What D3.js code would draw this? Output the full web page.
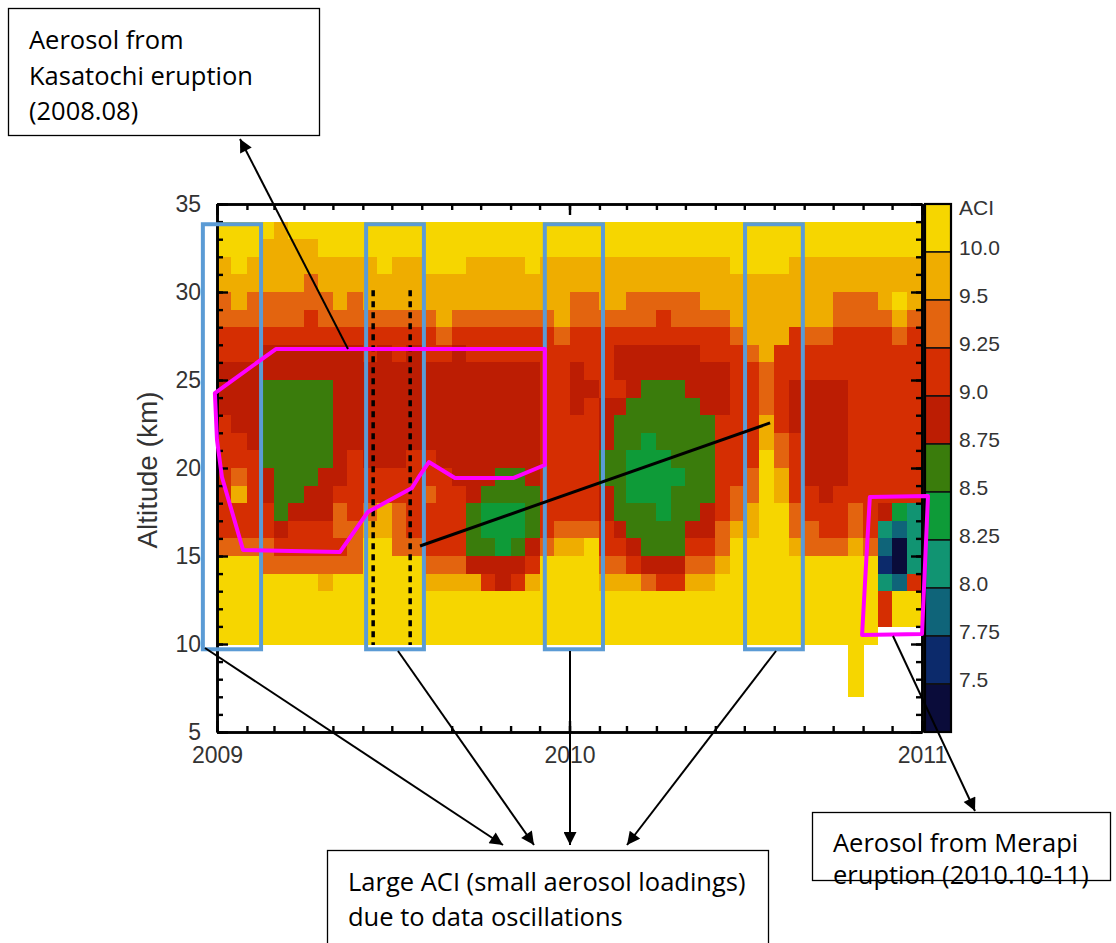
<!DOCTYPE html>
<html>
<head>
<meta charset="utf-8">
<title>ACI altitude-time section 2009-2011</title>
<script src="https://cdn.jsdelivr.net/npm/d3@7/dist/d3.min.js"></script>
<style>
  body { margin: 0; background: #fff; }
  .axis .domain { stroke: #000; stroke-width: 2.6; }
  .axis .tick line { stroke: #000; stroke-width: 2.4; }
  .axis text, .cbar text, .ylabel { font-family: "Liberation Sans", Arial, sans-serif; font-size: 23px; fill: #333; }
  .cbar text { font-size: 21px; }
  .note text { font-family: "Open Sans", sans-serif; font-size: 25.5px; fill: #000; }
</style>
</head>
<body>
<svg id="chart" width="1116" height="943"></svg>
<script>
(function () {
  'use strict';

  // ACI class of each 1 km cell, one string per half-month column,
  // read from the top cell (33-34 km) down to 7-8 km.
  // 0 >10.0 | 1 9.5-10 | 2 9.25-9.5 | 3 9.0-9.25 | 4 8.75-9.0 | 5 8.5-8.75
  // 6 8.25-8.5 | 7 8.0-8.25 | 8 7.75-8.0 | 9 7.5-7.75 | A <7.5 | . no data
  var aci2009 = [
    "001122334443333333200000...",
    "000112334444332133200000...",
    "001122334444433333200000...",
    "011122344555554433220000...",
    "111122344555555554320000...",
    "011122344555555543320000...",
    "011223344555555443320000...",
    "001122344555554443321000...",
    "001112344444444322320000...",
    "001122344444433332220000...",
    "001112334444443321000000...",
    "000112344444443311000000...",
    "001112334444443322200000...",
    "001112344444433333200000...",
    "000112334444433233321000...",
    "000111234444443333321000...",
    "000112344444444333321000...",
    "001112334444444455541000...",
    "001112334444444566543000...",
    "001112334444445566644000...",
    "001112334444445566543000...",
    "000112334444444555431000...",
    "001112333333333333200000...",
    "001111233333333332100000..."
  ];
  var aci2010 = [
    "001122334443333332100000...",
    "001122333433333332000000...",
    "001112333344455443321000...",
    "001112344345555554321000...",
    "001122344455566655431000...",
    "001122344555666655542000...",
    "001123344555566665543000...",
    "001122344555556555543000...",
    "001122344455555554321000...",
    "001112334445555544321000...",
    "001112334443333332210000...",
    "000111233333333221000000...",
    "000111123333332211000000...",
    "000111112221100000000000...",
    "000111133333221100000000...",
    "001111333444333322100000...",
    "001111233444444332200000...",
    "001111233444444433200000...",
    "001122333444444333200000...",
    "001122333333333322100000000",
    "001122333333333333200000...",
    "00111233333333334789733....",
    "001101233333333368AA800....",
    "00111233333333337777300...."
  ];

  var aciClasses = ['0', '1', '2', '3', '4', '5', '6', '7', '8', '9', 'A'];
  var aciColors = ['#f6d600', '#efad00', '#e3640f', '#d52e02', '#bc1d03', '#3a7c0c',
                   '#0e9b38', '#119472', '#0f6479', '#0c2a6b', '#0a0c3a'];
  var aciLabels = ['10.0', '9.5', '9.25', '9.0', '8.75', '8.5', '8.25', '8.0', '7.75', '7.5'];
  var altTicks = [5, 10, 15, 20, 25, 30, 35];
  var yearTicks = [2009, 2010, 2011];

  // overlay marks, in decimal year / km
  var oscillationBoxes = [[2008.96, 2009.125], [2009.423, 2009.587], [2009.93, 2010.095], [2010.498, 2010.662]];
  var kasatochiOutline = [[2008.994, 24.26], [2009.0, 21.59], [2009.014, 19.49], [2009.074, 15.34],
    [2009.349, 15.23], [2009.428, 17.5], [2009.553, 18.86], [2009.576, 19.6], [2009.601, 20.34],
    [2009.675, 19.43], [2009.84, 19.43], [2009.93, 20.17], [2009.93, 26.76], [2009.167, 26.76]];
  var merapiOutline = [[2010.852, 18.35], [2011.017, 18.41], [2011.0, 10.57], [2010.83, 10.51]];
  var dottedLines = [2009.443, 2009.548];
  var trendLine = [[2009.576, 15.57], [2010.569, 22.56]];

  var svg = d3.select('#chart');

  var x = d3.scaleTime()
    .domain([new Date(2009, 0, 1), new Date(2011, 0, 1)])
    .range([217, 922]);
  var y = d3.scaleLinear().domain([5, 35]).range([732, 204]);
  var color = d3.scaleOrdinal().domain(aciClasses).range(aciColors);

  var yearDate = function (v) {
    var y0 = Math.floor(v);
    var a = new Date(y0, 0, 1), b = new Date(y0 + 1, 0, 1);
    return new Date(a.getTime() + (v - y0) * (b - a));
  };

  // half-month column edges
  var colEdges = [];
  d3.timeMonth.range(new Date(2009, 0, 1), new Date(2011, 0, 1)).forEach(function (m) {
    colEdges.push(m, new Date(m.getFullYear(), m.getMonth(), 16));
  });
  colEdges.push(new Date(2011, 0, 1));
  var altBins = d3.range(33, 6, -1);

  var cells = [];
  aci2009.concat(aci2010).forEach(function (col, i) {
    col.split('').forEach(function (k, j) {
      if (k === '.') return;
      cells.push({ t0: colEdges[i], t1: colEdges[i + 1], alt: altBins[j], k: k });
    });
  });

  svg.append('g').attr('class', 'cells')
    .selectAll('rect')
    .data(cells)
    .enter().append('rect')
    .attr('x', function (d) { return x(d.t0); })
    .attr('y', function (d) { return y(d.alt + 1); })
    .attr('width', function (d) { return x(d.t1) - x(d.t0) + 0.6; })
    .attr('height', function (d) { return y(d.alt) - y(d.alt + 1) + 0.6; })
    .attr('fill', function (d) { return color(d.k); })
    .attr('shape-rendering', 'crispEdges');

  // axes, ticks pointing inward
  var monthTicks = d3.timeMonth.every(1);
  var yearDates = yearTicks.map(function (v) { return new Date(v, 0, 1); });

  svg.append('g').attr('class', 'axis').attr('transform', 'translate(217,0)')
    .call(d3.axisLeft(y).tickValues(d3.range(5, 36)).tickSizeInner(-6).tickSizeOuter(0).tickFormat(''));
  svg.append('g').attr('class', 'axis').attr('transform', 'translate(217,0)')
    .call(d3.axisLeft(y).tickValues(altTicks).tickSizeInner(-11).tickSizeOuter(0).tickPadding(16));

  svg.append('g').attr('class', 'axis').attr('transform', 'translate(922,0)')
    .call(d3.axisRight(y).tickValues(d3.range(5, 36)).tickSizeInner(-6).tickSizeOuter(0).tickFormat(''));
  svg.append('g').attr('class', 'axis').attr('transform', 'translate(922,0)')
    .call(d3.axisRight(y).tickValues(altTicks).tickSizeInner(-11).tickSizeOuter(0).tickFormat(''));

  svg.append('g').attr('class', 'axis').attr('transform', 'translate(0,204)')
    .call(d3.axisTop(x).ticks(monthTicks).tickSizeInner(-6).tickSizeOuter(0).tickFormat(''));
  svg.append('g').attr('class', 'axis').attr('transform', 'translate(0,204)')
    .call(d3.axisTop(x).tickValues(yearDates).tickSizeInner(-11).tickSizeOuter(0).tickFormat(''));

  svg.append('g').attr('class', 'axis').attr('transform', 'translate(0,732)')
    .call(d3.axisBottom(x).ticks(monthTicks).tickSizeInner(-6).tickSizeOuter(0).tickFormat(''));
  svg.append('g').attr('class', 'axis').attr('transform', 'translate(0,732)')
    .call(d3.axisBottom(x).tickValues(yearDates).tickSizeInner(-11).tickSizeOuter(0)
      .tickPadding(15).tickFormat(d3.timeFormat('%Y')));

  svg.append('text').attr('class', 'ylabel')
    .attr('transform', 'translate(157,470) rotate(-90)')
    .attr('text-anchor', 'middle')
    .style('font-size', '28px')
    .text('Altitude (km)');

  // colour bar
  var cb = d3.scaleBand().domain(aciClasses).range([204, 732]);
  var cbar = svg.append('g').attr('class', 'cbar');
  cbar.selectAll('rect')
    .data(aciClasses)
    .enter().append('rect')
    .attr('x', 925)
    .attr('y', function (d) { return cb(d); })
    .attr('width', 26)
    .attr('height', cb.bandwidth())
    .attr('fill', function (d) { return color(d); })
    .attr('stroke', '#111')
    .attr('stroke-width', 1.5);
  cbar.append('rect')
    .attr('x', 925).attr('y', 204).attr('width', 26).attr('height', 528)
    .attr('fill', 'none').attr('stroke', '#000').attr('stroke-width', 2.2);
  cbar.selectAll('text.lab')
    .data(aciLabels)
    .enter().append('text')
    .attr('class', 'lab')
    .attr('x', 959)
    .attr('y', function (d, i) { return cb(aciClasses[i + 1]) - 4; })
    .attr('dy', '0.35em')
    .text(function (d) { return d; });
  cbar.append('text').attr('x', 959).attr('y', 208).attr('dy', '0.35em').text('ACI');

  // overlays
  var over = svg.append('g').attr('class', 'overlay').attr('fill', 'none');
  var pt = function (p) { return [x(yearDate(p[0])), y(p[1])]; };

  over.selectAll('rect.osc')
    .data(oscillationBoxes)
    .enter().append('rect')
    .attr('class', 'osc')
    .attr('x', function (d) { return x(yearDate(d[0])); })
    .attr('y', y(33.85))
    .attr('width', function (d) { return x(yearDate(d[1])) - x(yearDate(d[0])); })
    .attr('height', y(9.7) - y(33.85))
    .attr('stroke', '#5b9bd5')
    .attr('stroke-width', 4);

  over.selectAll('line.dot')
    .data(dottedLines)
    .enter().append('line')
    .attr('class', 'dot')
    .attr('x1', function (d) { return x(yearDate(d)); })
    .attr('x2', function (d) { return x(yearDate(d)); })
    .attr('y1', y(30.1))
    .attr('y2', y(9.95))
    .attr('stroke', '#000')
    .attr('stroke-width', 3.5)
    .attr('stroke-dasharray', '6,5');

  over.append('path')
    .attr('d', d3.line()(trendLine.map(pt)))
    .attr('stroke', '#000')
    .attr('stroke-width', 3);

  over.selectAll('path.outline')
    .data([kasatochiOutline, merapiOutline])
    .enter().append('path')
    .attr('class', 'outline')
    .attr('d', function (d) { return d3.line()(d.map(pt)) + 'Z'; })
    .attr('stroke', '#ff00ff')
    .attr('stroke-width', 4)
    .attr('stroke-linejoin', 'round');

  // callouts
  svg.append('defs').append('marker')
    .attr('id', 'head')
    .attr('viewBox', '0 0 10 10')
    .attr('refX', 10).attr('refY', 5)
    .attr('markerUnits', 'userSpaceOnUse')
    .attr('markerWidth', 15).attr('markerHeight', 13)
    .attr('orient', 'auto')
    .append('path').attr('d', 'M0,0L10,5L0,10z').attr('fill', '#000');

  var callouts = [
    [[348, 349], [240, 139]],
    [[205, 648], [503, 845]],
    [[398, 651], [534, 845]],
    [[570, 651], [570, 845]],
    [[776, 651], [627, 845]],
    [[893, 636], [975, 811]]
  ];
  svg.append('g').selectAll('line')
    .data(callouts)
    .enter().append('line')
    .attr('x1', function (d) { return d[0][0]; })
    .attr('y1', function (d) { return d[0][1]; })
    .attr('x2', function (d) { return d[1][0]; })
    .attr('y2', function (d) { return d[1][1]; })
    .attr('stroke', '#000')
    .attr('stroke-width', 2)
    .attr('marker-end', 'url(#head)');

  var notes = [
    { x: 8, y: 8, w: 311, h: 127, ty: 49, dy: 35.5, lines: ['Aerosol from', 'Kasatochi eruption', '(2008.08)'] },
    { x: 327, y: 850, w: 441, h: 130, ty: 891, dy: 35, lines: ['Large ACI (small aerosol loadings)', 'due to data oscillations'] },
    { x: 812, y: 812, w: 298, h: 68, ty: 852, dy: 32, lines: ['Aerosol from Merapi', 'eruption (2010.10-11)'] }
  ];
  var note = svg.append('g').attr('class', 'note')
    .selectAll('g')
    .data(notes)
    .enter().append('g');
  note.append('rect')
    .attr('x', function (d) { return d.x + 0.5; })
    .attr('y', function (d) { return d.y + 0.5; })
    .attr('width', function (d) { return d.w; })
    .attr('height', function (d) { return d.h; })
    .attr('fill', '#fff')
    .attr('stroke', '#000')
    .attr('stroke-width', 1.3);
  note.each(function (d) {
    d3.select(this).selectAll('text')
      .data(d.lines)
      .enter().append('text')
      .attr('x', d.x + 21)
      .attr('y', function (s, i) { return d.ty + i * d.dy; })
      .text(function (s) { return s; });
  });
})();
</script>
</body>
</html>
